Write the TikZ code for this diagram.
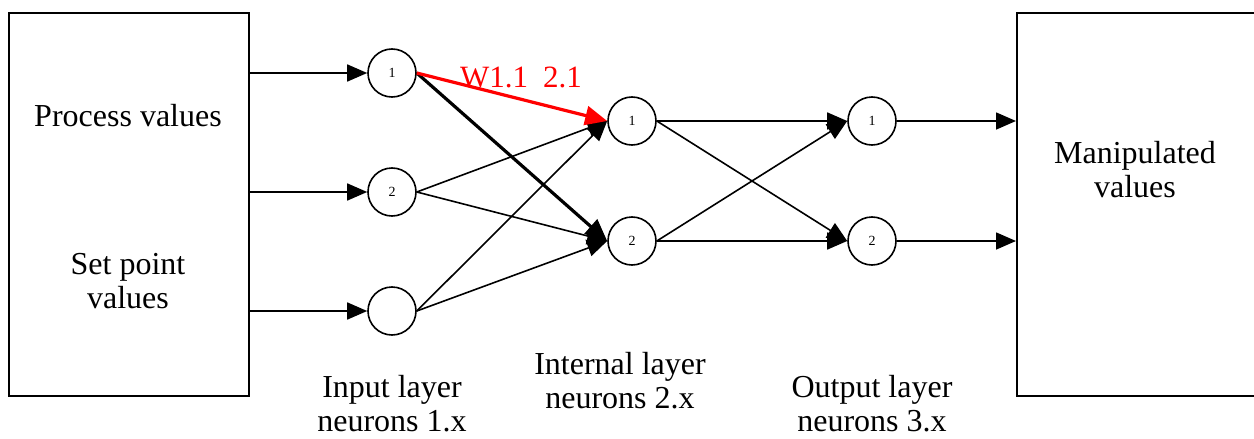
\documentclass[tikz,border=0pt]{standalone}
\usepackage{fontspec}
\setmainfont{Liberation Serif}
\usetikzlibrary{arrows.meta}
\begin{document}
\begin{tikzpicture}[x=1pt,y=-1pt,
  neuron/.style={circle,draw,line width=1.6pt,minimum size=48pt,inner sep=0pt,
                 font=\fontsize{14}{14}\selectfont},
  bigbox/.style={draw,line width=1.8pt,minimum width=#1,minimum height=383pt,
                 inner sep=0pt,anchor=north west},
  link/.style={line width=1.6pt,-{Triangle[length=20pt,width=17pt]}},
  heavy/.style={line width=3.2pt,-{Triangle[length=22pt,width=19pt]}},
  lbl/.style={font=\fontsize{32}{34}\selectfont,align=center,inner sep=0pt}]

\useasboundingbox (0,0) rectangle (1254,439);

% outer blocks
\node[bigbox=240pt] (inbox) at (8,12) {};
\node[bigbox=280pt] (outbox) at (1016,12) {};

\node[lbl] (pv) at (128,116) {Process values};
\node[lbl] (sp) at (128,281) {Set point\\values};
\node[lbl] (mv) at (1135,170) {Manipulated\\values};

% neurons
\node[neuron] (i1) at (392,73) {1};
\node[neuron] (i2) at (392,192) {2};
\node[neuron] (i3) at (392,311) {};
\node[neuron] (h1) at (632,121) {1};
\node[neuron] (h2) at (632,241) {2};
\node[neuron] (o1) at (872,121) {1};
\node[neuron] (o2) at (872,241) {2};

% inputs
\draw[link] (inbox.east |- i1) -- (i1.west);
\draw[link] (inbox.east |- i2) -- (i2.west);
\draw[link] (inbox.east |- i3) -- (i3.west);

% input layer -> internal layer
\draw[link] (i2.east) -- (h1.west);
\draw[link] (i2.east) -- (h2.west);
\draw[link] (i3.east) -- (h1.west);
\draw[link] (i3.east) -- (h2.west);
\draw[heavy] (i1.east) -- (h2.west);
\draw[heavy,red] (i1.east) -- (h1.west);

% internal layer -> output layer
\draw[link] (h1.east) -- (o1.west);
\draw[link] (h1.east) -- (o2.west);
\draw[link] (h2.east) -- (o1.west);
\draw[link] (h2.east) -- (o2.west);

% outputs
\draw[link] (o1.east) -- (outbox.west |- o1);
\draw[link] (o2.east) -- (outbox.west |- o2);

% weight label
\node[font=\fontsize{31}{31}\selectfont,text=red,anchor=base west,inner sep=0pt] (w) at (460,87) {W1.1\hspace{15pt}2.1};

% layer captions
\node[lbl] (cin) at (392,404) {Input layer\\neurons 1.x};
\node[lbl] (chid) at (620,381) {Internal layer\\neurons 2.x};
\node[lbl] (cout) at (872,404) {Output layer\\neurons 3.x};
\end{tikzpicture}
\end{document}
